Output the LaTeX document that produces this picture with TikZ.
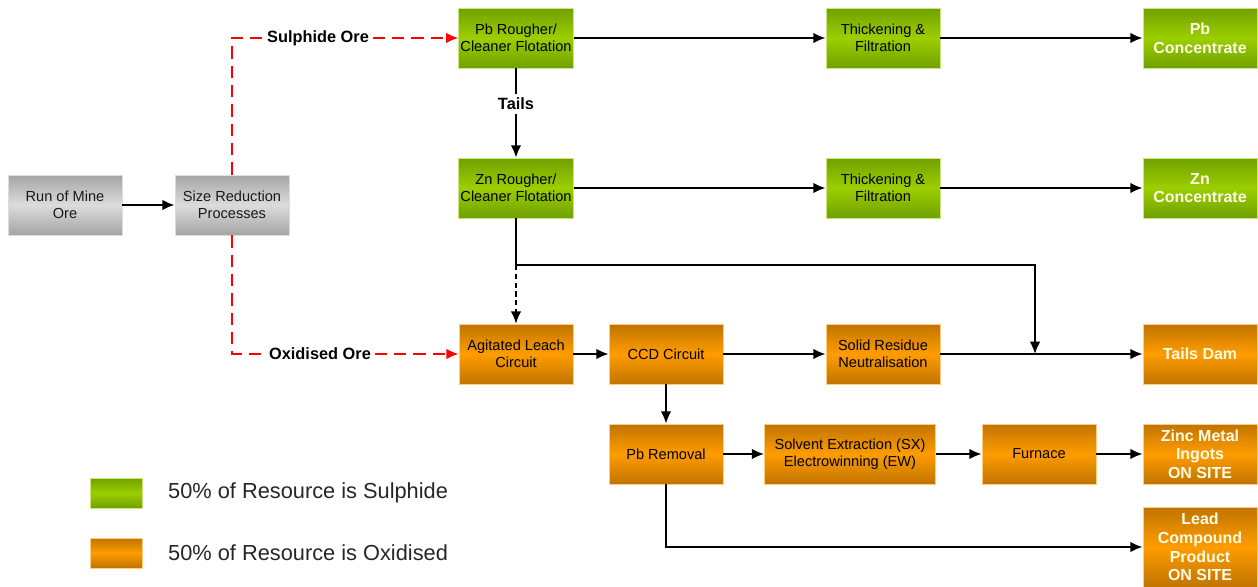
\documentclass[tikz,border=0pt]{standalone}
\usepackage{fontspec}
\setmainfont{Liberation Sans}
\usetikzlibrary{arrows.meta}

\definecolor{sulA}{HTML}{70A000}
\definecolor{sulB}{HTML}{9CCF00}
\definecolor{oxA}{HTML}{C07400}
\definecolor{oxB}{HTML}{FF9C00}
\definecolor{grA}{HTML}{A4A4A4}
\definecolor{grB}{HTML}{DCDCDC}
\definecolor{outtext}{HTML}{FFFCE6}

\begin{document}
\begin{tikzpicture}[x=0.02cm, y=-0.02cm,
        box/.style={minimum width=2.28cm, minimum height=1.2cm, align=center, inner sep=1pt,
                font=\fontsize{8.3}{9.6}\selectfont},
        sulbox/.style={box, top color=sulA, bottom color=sulA, middle color=sulB, draw=sulB!50!white},
        oxbox/.style={box, top color=oxA, bottom color=oxA, middle color=oxB, draw=oxB!50!white},
        grbox/.style={box, top color=grA, bottom color=grA, middle color=grB, draw=grB, text=black!90},
        outbox/.style={text=outtext, font=\bfseries\fontsize{9.1}{10.6}\selectfont},
        lbl/.style={font=\bfseries\fontsize{9.3}{11}\selectfont, fill=white, inner sep=2pt},
        legtext/.style={anchor=west, font=\fontsize{12.4}{14}\selectfont, text=black!85},
        flow/.style={-{Latex[length=7pt,width=6pt]}, line width=1.1pt},
        feedline/.style={red, line width=1.1pt, dash pattern=on 7pt off 4pt},
        feed/.style={feedline, -{Latex[length=7pt,width=6pt]}}]
    \useasboundingbox (0,0) rectangle (1258,587);

    % feed
    \node[grbox] (rom) at (65,205) {Run of Mine\\Ore};
    \node[grbox] (size) at (232,205) {Size Reduction\\Processes};
    \node[lbl] (sul) at (318,38) {Sulphide Ore};
    \node[lbl] (oxi) at (320,354) {Oxidised Ore};

    % sulphide circuit
    \node[sulbox] (pbr) at (516,38) {Pb Rougher/\\Cleaner Flotation};
    \node[sulbox] (thka) at (883,38) {Thickening \&\\Filtration};
    \node[sulbox, outbox] (pbc) at (1200,38) {Pb\\Concentrate};
    \node[lbl] (tails) at (516,104) {Tails};
    \node[sulbox] (znr) at (516,188) {Zn Rougher/\\Cleaner Flotation};
    \node[sulbox] (thkb) at (883,188) {Thickening \&\\Filtration};
    \node[sulbox, outbox] (znc) at (1200,188) {Zn\\Concentrate};

    % oxide circuit
    \node[oxbox] (leach) at (516,354) {Agitated Leach\\Circuit};
    \node[oxbox] (ccd) at (666,354) {CCD Circuit};
    \node[oxbox] (solid) at (883,354) {Solid Residue\\Neutralisation};
    \node[oxbox, outbox] (dam) at (1200,354) {Tails Dam};
    \node[oxbox] (pbrem) at (666,454) {Pb Removal};
    \node[oxbox, minimum width=3.42cm] (sxew) at (850,454) {Solvent Extraction (SX)\\Electrowinning (EW)};
    \node[oxbox] (furn) at (1039,454) {Furnace};
    \node[oxbox, outbox] (zinc) at (1200,454) {Zinc Metal\\Ingots\\ON SITE};
    \node[oxbox, outbox, minimum height=1.6cm] (lead) at (1200,547) {Lead\\Compound\\Product\\ON SITE};

    \coordinate (split) at (516,265);
    \coordinate (join) at (1035,354);

    % connectors
    \draw[feedline] (size.north) |- (sul.west);
    \draw[feedline] (size.south) |- (oxi.west);
    \draw[feed] (sul) -- (pbr);
    \draw[feed] (oxi) -- (leach);
    \foreach \a/\b in {rom/size, pbr/thka, thka/pbc, tails/znr, znr/thkb, thkb/znc,
            leach/ccd, ccd/solid, solid/dam, ccd/pbrem, pbrem/sxew, sxew/furn, furn/zinc} {
            \draw[flow] (\a) -- (\b);
        }
    \draw[line width=1.1pt] (pbr) -- (tails);
    \draw[line width=1.1pt] (znr) -- (split);
    \draw[flow] (split) -| (join);
    \draw[flow, line width=0.9pt, dash pattern=on 3pt off 2pt] (split) -- (leach);
    \draw[flow] (pbrem.south) |- (lead);

    % legend
    \node[sulbox, minimum width=1.04cm, minimum height=0.6cm] (legsul) at (116,493) {};
    \node[oxbox, minimum width=1.04cm, minimum height=0.6cm] (legox) at (116,553) {};
    \node[legtext] (legsultext) at (162,493) {50\% of Resource is Sulphide};
    \node[legtext] (legoxtext) at (162,553) {50\% of Resource is Oxidised};
\end{tikzpicture}
\end{document}
